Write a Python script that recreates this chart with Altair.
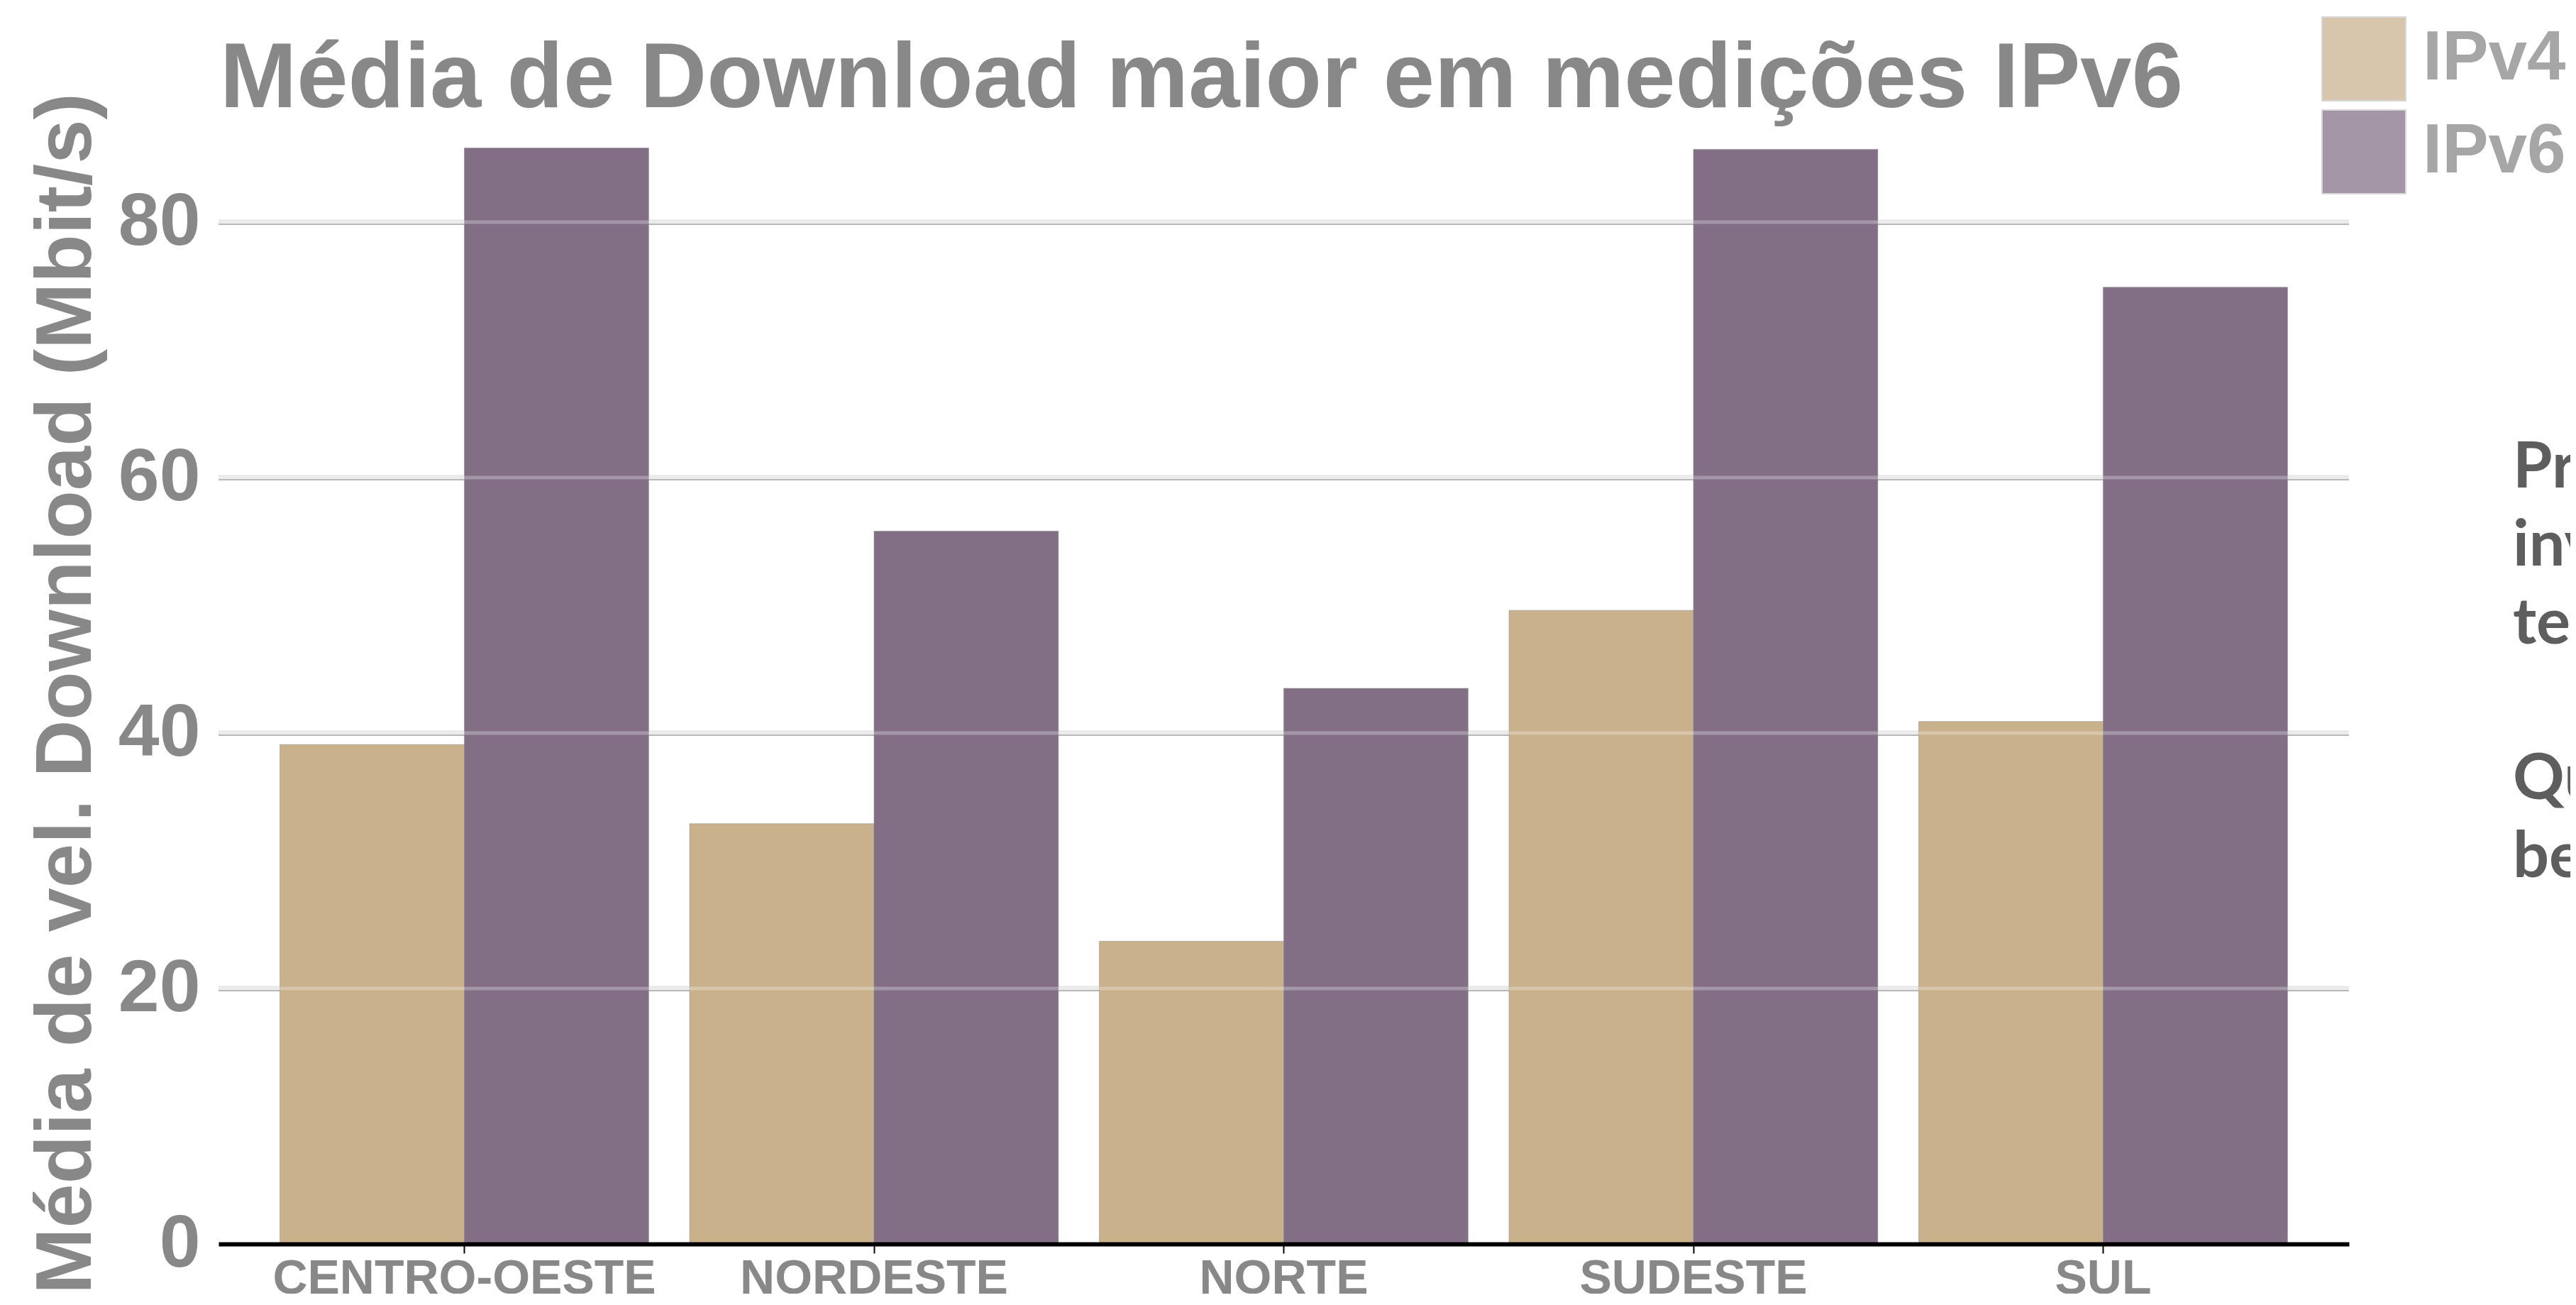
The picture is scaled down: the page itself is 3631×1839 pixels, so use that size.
import altair as alt
import pandas as pd

# ---- data ----
regions = ["CENTRO-OESTE", "NORDESTE", "NORTE", "SUDESTE", "SUL"]
ipv4_mbps = [39.1, 32.9, 23.7, 49.6, 40.9]
ipv6_mbps = [85.8, 55.8, 43.5, 85.7, 74.9]
protocols = ["IPv4", "IPv6"]
protocol_colors = ["#c9b18c", "#826f85"]
y_tick_values = [0, 20, 40, 60, 80]
grid_values = [20, 40, 60, 80]

title_text = "Média de Download maior em medições IPv6"
y_title = "Média de vel. Download (Mbit/s)"
side_note_first = ["Provavelmente", "investimentos", "tecnológicos"]
side_note_second = ["Quem", "beneficia"]

rows = []
for reg, v4, v6 in zip(regions, ipv4_mbps, ipv6_mbps):
    rows.append({"regiao": reg, "protocolo": "IPv4", "valor": v4})
    rows.append({"regiao": reg, "protocolo": "IPv6", "valor": v6})
df = pd.DataFrame(rows)
grid_df = pd.DataFrame({"valor": grid_values})
one_row = pd.DataFrame({"k": [0]})

FONT = "Liberation Sans"
GREY = "#888888"

y_scale = alt.Scale(domain=[0, 88], nice=False)
y_axis = alt.Axis(
    title=y_title,
    values=y_tick_values,
    grid=False,
    domain=False,
    ticks=False,
    labelFont=FONT,
    labelFontSize=104,
    labelFontWeight="bold",
    labelColor=GREY,
    labelPadding=26,
    titleFont=FONT,
    titleFontSize=112,
    titleFontWeight="bold",
    titleColor=GREY,
    titleAngle=270,
    titleX=-181,
    titleY=808,
    titleAlign="center",
    titleBaseline="alphabetic",
    titleLimit=3000,
)
y_enc = alt.Y("valor:Q", scale=y_scale, axis=y_axis)

grid_under = alt.Chart(grid_df).mark_rule(color="#e4e4e4", strokeWidth=7).encode(y=y_enc)
grid_edge = alt.Chart(grid_df).mark_rule(color="#a0a0a0", strokeWidth=1.5, yOffset=3).encode(y=y_enc)

bars = alt.Chart(df).mark_bar(stroke="#8f8f8f", strokeWidth=1, strokeOpacity=0.6).encode(
    x=alt.X(
        "regiao:N",
        sort=regions,
        scale=alt.Scale(paddingInner=0.1, paddingOuter=0.15),
        axis=alt.Axis(
            title=None,
            labelAngle=0,
            labelFont=FONT,
            labelFontSize=68,
            labelFontWeight="bold",
            labelColor=GREY,
            labelLimit=1000,
            labelPadding=56,
            labelBaseline="alphabetic",
            domainColor="#000000",
            domainWidth=6,
            tickColor="#000000",
            tickWidth=2,
            tickSize=13,
            zindex=1,
        ),
    ),
    xOffset=alt.XOffset("protocolo:N", sort=protocols),
    y=y_enc,
    color=alt.Color(
        "protocolo:N",
        scale=alt.Scale(domain=protocols, range=protocol_colors),
        legend=alt.Legend(
            title=None,
            orient="none",
            legendX=2964,
            legendY=-146,
            padding=0,
            symbolType="square",
            symbolSize=13924,
            symbolOpacity=0.72,
            symbolStrokeColor="#c8c8c8",
            symbolStrokeWidth=2,
            labelFont=FONT,
            labelFontSize=98,
            labelFontWeight="bold",
            labelColor="#a6a6a6",
            labelOffset=23,
            labelLimit=400,
            rowPadding=5,
        ),
    ),
)

grid_over = alt.Chart(grid_df).mark_rule(color="#ffffff", strokeOpacity=0.27, strokeWidth=5).encode(y=y_enc)

title_mark = alt.Chart(one_row).mark_text(
    font=FONT, fontSize=130, fontWeight="bold", color=GREY,
    align="left", baseline="alphabetic",
).encode(x=alt.value(2), y=alt.value(-18), text=alt.value(title_text))

note_style = dict(font="Lato", fontSize=90, fontWeight="bold", color="#5e5e5e",
                  align="left", baseline="alphabetic", lineHeight=110)
note_first = alt.Chart(one_row).mark_text(**note_style).encode(
    x=alt.value(3234), y=alt.value(518), text=alt.value(side_note_first))
note_second = alt.Chart(one_row).mark_text(**note_style).encode(
    x=alt.value(3234), y=alt.value(957), text=alt.value(side_note_second))

chart = alt.layer(grid_under, grid_edge, bars, grid_over, title_mark, note_first, note_second).properties(
    width=3003,
    height=1584,
    autosize=alt.AutoSizeParams(type="none"),
    padding={"left": 300, "top": 161, "right": 312, "bottom": 70},
    background="#ffffff",
).configure_view(strokeOpacity=0)

chart.save("out.html", embed_options={"renderer": "svg", "actions": False})
